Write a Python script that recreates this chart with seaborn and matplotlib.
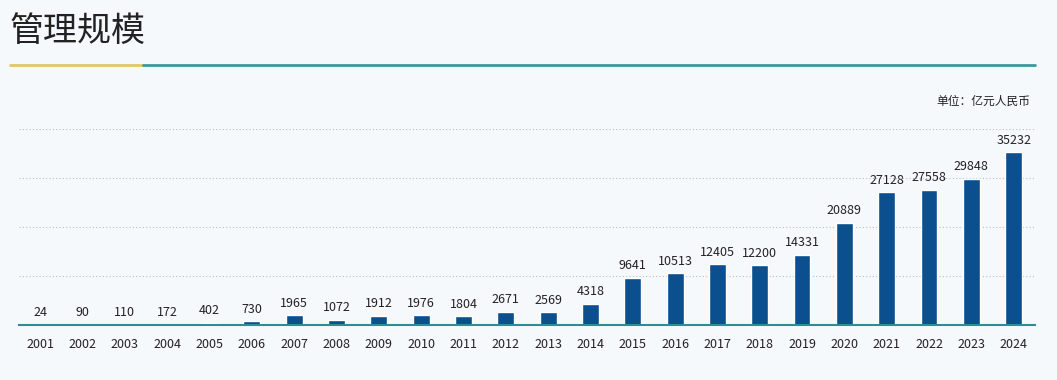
import matplotlib
matplotlib.use("Agg")
import matplotlib.pyplot as plt
import seaborn as sns
import pandas as pd
from matplotlib.lines import Line2D

years = [str(y) for y in range(2001, 2025)]
values = [24, 90, 110, 172, 402, 730, 1965, 1072, 1912, 1976, 1804, 2671, 2569,
          4318, 9641, 10513, 12405, 12200, 14331, 20889, 27128, 27558, 29848, 35232]
title = "管理规模"
unit = "单位：亿元人民币"

sns.set_style("white")
plt.rcParams['font.family'] = ['Noto Sans CJK SC', 'DejaVu Sans']

bg = "#f5f9fc"
fig = plt.figure(figsize=(10.57, 3.80), dpi=100, facecolor=bg)
ax = fig.add_axes([0.018, 0.1447, 0.961, 0.5158], facecolor=bg)

df = pd.DataFrame({"year": years, "value": values})
sns.barplot(data=df, x="year", y="value", color="#0b4f8f", saturation=1,
            width=0.4, ax=ax)
ax.set_xlim(-0.5, len(years) - 0.5)
ax.set_ylim(0, 40000)
ax.set_yticks([10000, 20000, 30000, 40000])
ax.yaxis.grid(True, linestyle=(0, (1, 2)), color="#b8bec6", linewidth=0.8)
ax.set_axisbelow(True)
ax.tick_params(axis="y", left=False, labelleft=False)
ax.tick_params(axis="x", bottom=False, labelsize=9, labelcolor="#222222", pad=6)
for s in ["top", "right", "left"]:
    ax.spines[s].set_visible(False)
ax.spines["bottom"].set_color("#2a8f94")
ax.spines["bottom"].set_linewidth(1.5)
ax.set_xlabel("")
ax.set_ylabel("")

for c in ax.containers:
    ax.bar_label(c, labels=[str(v) for v in values], padding=4, fontsize=9,
                 color="#222222")

fig.text(0.009, 0.918, title, fontsize=24.5, fontweight="light", color="#222222",
         va="center", ha="left")
fig.add_artist(Line2D([10/1057, 143/1057], [1-65/380]*2, color="#e2c766",
                      linewidth=2, transform=fig.transFigure))
fig.add_artist(Line2D([143/1057, 1035/1057], [1-65/380]*2, color="#3a9a9a",
                      linewidth=2, transform=fig.transFigure))
fig.text(1030/1057, 1-101/380, unit, fontsize=8.5, color="#222222",
         ha="right", va="center")

fig.savefig("out.png", dpi=100, facecolor=bg)
